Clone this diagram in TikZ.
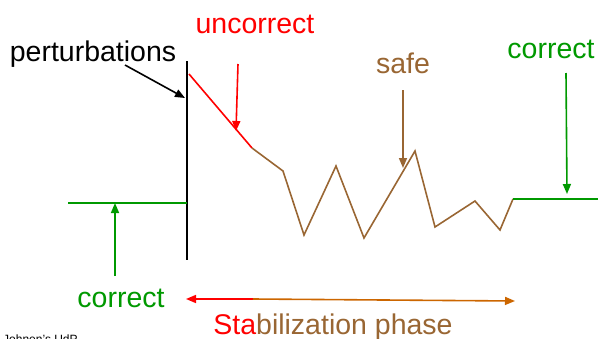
\documentclass[tikz,border=0pt]{standalone}
\usepackage{fontspec}
\setmainfont{Liberation Sans}
\usetikzlibrary{arrows.meta}
\definecolor{cred}{RGB}{255,0,0}
\definecolor{cgreen}{RGB}{0,153,0}
\definecolor{cbrown}{RGB}{153,102,51}
\definecolor{corange}{RGB}{204,102,0}
\begin{document}
\begin{tikzpicture}[x=1pt,y=-1pt,
  lbl/.style={font=\fontsize{28.5}{34}\selectfont, inner sep=0pt, anchor=base},
  ln/.style={line width=1.6pt},
  arr/.style={ln, -{Triangle[length=10pt,width=8pt]}},
  arrl/.style={ln, {Triangle[length=10pt,width=8pt]}-}]
\useasboundingbox (0,0) rectangle (598,338);
% coordinates
\coordinate (vtop) at (187,61);
\coordinate (vbot) at (187,260);
\coordinate (gl) at (68,203);
\coordinate (gr) at (187,203);
\coordinate (r0) at (189,74);
\coordinate (r1) at (252,148);
\coordinate (p1) at (283,171);
\coordinate (p2) at (304,235);
\coordinate (p3) at (336,166);
\coordinate (p4) at (364,238);
\coordinate (p5) at (415,151);
\coordinate (p6) at (435,227);
\coordinate (p7) at (475,201);
\coordinate (p8) at (500,230);
\coordinate (p9) at (513,199);
\coordinate (g2) at (598,199);
% texts
\node[lbl] (pert) at (93,61) {perturbations};
\node[lbl, text=cred] (unc) at (255,33) {uncorrect};
\node[lbl, text=cbrown] (safe) at (403,73) {safe};
\node[lbl, text=cgreen] (corr) at (551,58) {correct};
\node[lbl, text=cgreen] (corl) at (121,307) {correct};
\node[lbl] (stab) at (333,334) {\textcolor{cred}{Sta}\textcolor{cbrown}{bilization phase}};
\node[inner sep=0pt, anchor=base west, font=\fontsize{12}{14}\selectfont] (jo) at (3,343) {Johnen's UdP};
% arrow anchors
\coordinate (pa0) at (125,65);
\coordinate (pa1) at (185,98);
\coordinate (ua0) at (238,64);
\coordinate (ua1) at (236,131);
\coordinate (sa0) at (403,90);
\coordinate (sa1) at (403,168);
\coordinate (ca0) at (566,73);
\coordinate (ca1) at (567,194);
\coordinate (la0) at (115,276);
\coordinate (la1) at (115,203);
\coordinate (b0) at (186,299);
\coordinate (b1) at (253,299);
\coordinate (b2) at (515,301);
% curves
\draw[line width=2pt] (vtop) -- (vbot);
\draw[ln, cgreen] (gl) -- (gr);
\draw[ln, cred] (r0) -- (r1);
\draw[ln, cbrown] (r1) -- (p1) -- (p2) -- (p3) -- (p4) -- (p5) -- (p6) -- (p7) -- (p8) -- (p9);
\draw[ln, cgreen] (p9) -- (g2);
% arrows
\draw[arr, black] (pa0) -- (pa1);
\draw[arr, cred] (ua0) -- (ua1);
\draw[arr, cbrown] (sa0) -- (sa1);
\draw[arr, cgreen] (ca0) -- (ca1);
\draw[arr, cgreen] (la0) -- (la1);
\draw[arrl, cred] (b0) -- (b1);
\draw[arr, corange] (b1) -- (b2);
\end{tikzpicture}
\end{document}
